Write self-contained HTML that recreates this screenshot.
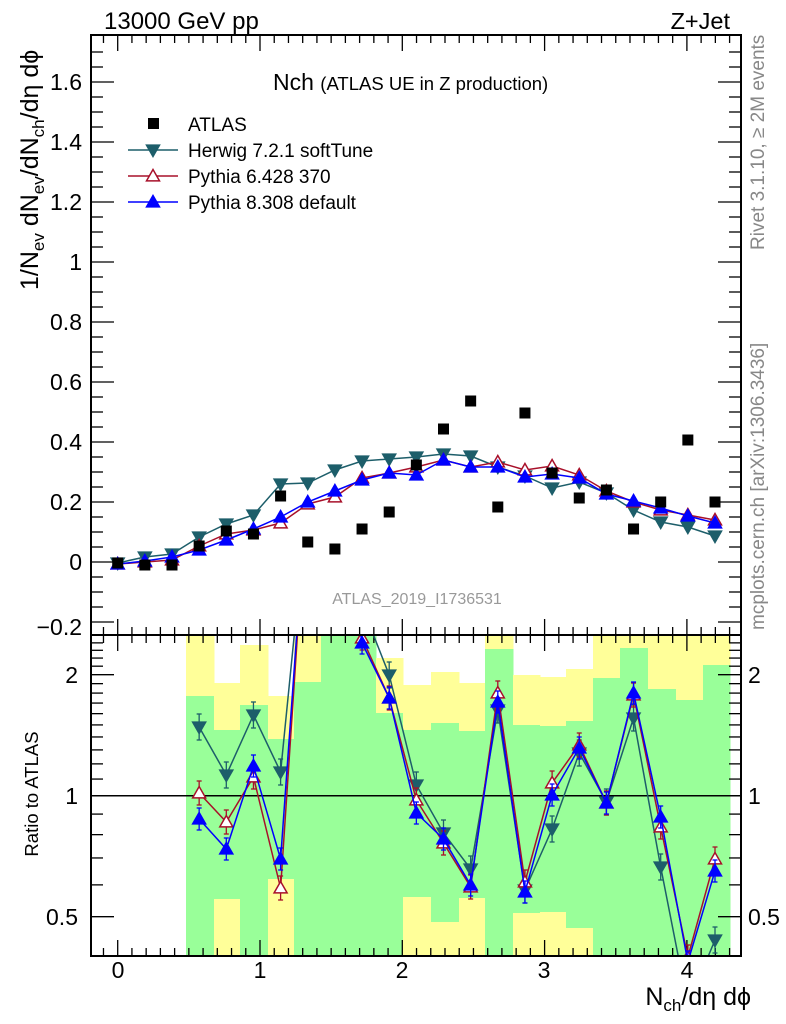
<!DOCTYPE html>
<html><head><meta charset="utf-8"><style>
html,body{margin:0;padding:0;background:#fff;}
svg{display:block;font-family:"Liberation Sans",sans-serif;}
</style></head><body>
<svg id="s" width="786" height="1024" viewBox="0 0 786 1024" xmlns="http://www.w3.org/2000/svg">
<defs>
<clipPath id="cm"><rect x="91" y="35" width="650" height="600"/></clipPath>
<clipPath id="cr"><rect x="91" y="635" width="650" height="321"/></clipPath>
</defs>
<g id="bands" clip-path="url(#cr)"></g>
<g id="ticks" stroke="#000" stroke-width="1.3"></g>
<line x1="91" y1="795.7" x2="741" y2="795.7" stroke="#000" stroke-width="1.5"/>
<g id="main" clip-path="url(#cm)"></g>
<g id="ratio" clip-path="url(#cr)"></g>
<rect x="91" y="35" width="650" height="600" fill="none" stroke="#000" stroke-width="2"/>
<rect x="91" y="635" width="650" height="321" fill="none" stroke="#000" stroke-width="2"/>
<text x="104" y="29" font-size="24">13000 GeV pp</text>
<text x="730" y="29" font-size="23.5" text-anchor="end">Z+Jet</text>
<text x="273" y="90" font-size="23">Nch <tspan font-size="18.5">(ATLAS UE in Z production)</tspan></text>
<g font-size="19">
<text x="188" y="131">ATLAS</text>
<text x="188" y="157">Herwig 7.2.1 softTune</text>
<text x="188" y="183">Pythia 6.428 370</text>
<text x="188" y="209">Pythia 8.308 default</text>
</g>
<text x="417" y="604" font-size="16" fill="#999" text-anchor="middle">ATLAS_2019_I1736531</text>
<g font-size="23" text-anchor="end">
<text x="82" y="90">1.6</text><text x="82" y="150">1.4</text><text x="82" y="210">1.2</text>
<text x="82" y="270">1</text><text x="82" y="330">0.8</text><text x="82" y="390">0.6</text>
<text x="82" y="450">0.4</text><text x="82" y="510">0.2</text><text x="82" y="570">0</text>
<text x="82" y="635">−0.2</text>
<text x="78" y="683">2</text><text x="78" y="804">1</text><text x="78" y="925">0.5</text>
</g>
<g font-size="23">
<text x="748" y="683">2</text><text x="748" y="804">1</text><text x="748" y="925">0.5</text>
</g>
<g font-size="23" text-anchor="middle">
<text x="118" y="978">0</text><text x="260" y="978">1</text><text x="402" y="978">2</text>
<text x="544" y="978">3</text><text x="687" y="978">4</text>
</g>
<text x="751" y="1005" font-size="25" text-anchor="end">N<tspan font-size="17" dy="6">ch</tspan><tspan dy="-6">/dη dϕ</tspan></text>
<text transform="translate(38,290) rotate(-90)" font-size="25">1/N<tspan font-size="17" dy="6">ev</tspan><tspan dy="-6"> dN</tspan><tspan font-size="17" dy="6">ev</tspan><tspan dy="-6">/dN</tspan><tspan font-size="17" dy="6">ch</tspan><tspan dy="-6">/dη dϕ</tspan></text>
<text transform="translate(38,794) rotate(-90)" font-size="18.5" text-anchor="middle">Ratio to ATLAS</text>
<text transform="translate(764,250) rotate(-90)" font-size="19" fill="#888">Rivet 3.1.10, ≥ 2M events</text>
<text transform="translate(764,630) rotate(-90)" font-size="19" fill="#888">mcplots.cern.ch [arXiv:1306.3436]</text>
</svg>
<script>
var NS="http://www.w3.org/2000/svg";
function el(p,t,a){var e=document.createElementNS(NS,t);for(var k in a)e.setAttribute(k,a[k]);p.appendChild(e);return e;}
var S=document.getElementById('s');
var T=document.getElementById('ticks');
for(var i=-1;i<=44;i++){var x=117.7+14.23*i;if(x<92||x>740)continue;var L=(i%10==0)?16:8;
 el(T,'line',{x1:x,y1:35,x2:x,y2:35+L});el(T,'line',{x1:x,y1:635,x2:x,y2:635-L});
 el(T,'line',{x1:x,y1:635,x2:x,y2:635+L});el(T,'line',{x1:x,y1:956,x2:x,y2:956-L});}
for(var i=-4;i<=34;i++){var y=562-15*i;if(y<36||y>634)continue;var L=(i%4==0)?23:12;
 el(T,'line',{x1:91,y1:y,x2:91+L,y2:y});el(T,'line',{x1:741,y1:y,x2:741-L,y2:y});}
for(var r=0.4;r<=2.55;r+=0.1){var rr=Math.round(r*10)/10;var y=795.7-121*Math.log2(rr);if(y<636||y>955)continue;
 var L=(rr==0.5||rr==1||rr==2)?23:12;
 el(T,'line',{x1:91,y1:y,x2:91+L,y2:y});el(T,'line',{x1:741,y1:y,x2:741-L,y2:y});}
var B=[[186,214,634,696,956,956],[214,240,683,730,899,956],[240,268,645,705,956,956],[268,294,696,739,879,956],
[294,321,634,682,956,956],[321,348,634,634,956,956],[348,376,634,634,956,956],[376,403,658,713,956,956],
[403,431,685,730,897,956],[431,459,672,723,922,956],[459,485,683,731,898,956],[485,513,634,649,956,956],
[513,540,675,725,913,956],[540,566,677,726,912,956],[566,593,669,721,928,956],[593,620,634,678,956,956],
[620,648,634,648,956,956],[648,676,634,689,956,956],[676,703,634,700,956,956],[703,730,634,665,956,956]];
var G=document.getElementById('bands');
B.forEach(function(b){el(G,'rect',{x:b[0],y:b[2],width:b[1]-b[0]+0.5,height:b[5]-b[2],fill:'#ffff99'});
 el(G,'rect',{x:b[0],y:b[3],width:b[1]-b[0]+0.5,height:b[4]-b[3],fill:'#99ff99'});});
function X(i){return 117.7+27.15*i;}
var atlas=[563,565,565,546,531,534,496,542,549,529,512,465,429,401,507,413,473,498,490,529,502,440,502];
var her=[563,557,554,537,524,515,484,483,470,461,459,457,454,456,467,476,488,482,493,510,522,527,536];
var p6=[564,562,560,546,534,530,523,504,497,478,473,467,460,467,462,470,466,475,491,502,510,515,520];
var p8=[564,561,557,550,540,529,517,502,491,480,473,475,460,467,467,477,474,478,494,501,508,516,523];
var rH=[null,null,null,727,775,715,772,500,500,606,675,785,833,869,710,890,829,753,802,718,867,1005,940];
var r6=[null,null,null,793,822,777,888,480,480,638,698,800,843,887,693,882,783,745,803,695,827,957,859];
var r8=[null,null,null,819,849,766,859,480,480,643,698,813,839,885,702,892,795,748,803,693,817,962,871];
var CH='#1d5e6a',C6='#a8102a',C8='#0000ff';
function tri(g,x,y,up,fill,stroke){var s=6.5;var p=up?[x,y-s,x-s,y+s*0.75,x+s,y+s*0.75]:[x,y+s,x-s,y-s*0.75,x+s,y-s*0.75];
 el(g,'polygon',{points:p.join(' '),fill:fill,stroke:stroke,'stroke-width':1.5});}
function series(g,arr,start,col,up,fill,eb){var pts=[];for(var i=start;i<arr.length;i++)if(arr[i]!=null)pts.push(X(i)+','+arr[i]);
 el(g,'polyline',{points:pts.join(' '),fill:'none',stroke:col,'stroke-width':1.5});
 for(var i=start;i<arr.length;i++){if(arr[i]==null)continue;
  if(eb){el(g,'line',{x1:X(i),y1:arr[i]-eb,x2:X(i),y2:arr[i]+eb,stroke:col,'stroke-width':1.3});
   el(g,'line',{x1:X(i)-2.5,y1:arr[i]-eb,x2:X(i)+2.5,y2:arr[i]-eb,stroke:col,'stroke-width':1.3});
   el(g,'line',{x1:X(i)-2.5,y1:arr[i]+eb,x2:X(i)+2.5,y2:arr[i]+eb,stroke:col,'stroke-width':1.3});}
  tri(g,X(i),arr[i],up,fill,col);}}
var M=document.getElementById('main');
series(M,her,0,CH,false,CH,2);series(M,p6,0,C6,true,'#fff',2);series(M,p8,0,C8,true,C8,2);
atlas.forEach(function(y,i){el(M,'rect',{x:X(i)-5.5,y:y-5.5,width:11,height:11,fill:'#000'});});
var R=document.getElementById('ratio');
series(R,rH,3,CH,false,CH,13);series(R,r6,3,C6,true,'#fff',12);series(R,r8,3,C8,true,C8,11);
el(S,'rect',{x:148,y:118,width:11,height:11,fill:'#000'});
[[150,CH,false,CH],[176,C6,true,'#fff'],[202,C8,true,C8]].forEach(function(l){
 el(S,'line',{x1:128,y1:l[0],x2:178,y2:l[0],stroke:l[1],'stroke-width':1.5});tri(S,153,l[0],l[2],l[3],l[1]);});
</script>
</body></html>
